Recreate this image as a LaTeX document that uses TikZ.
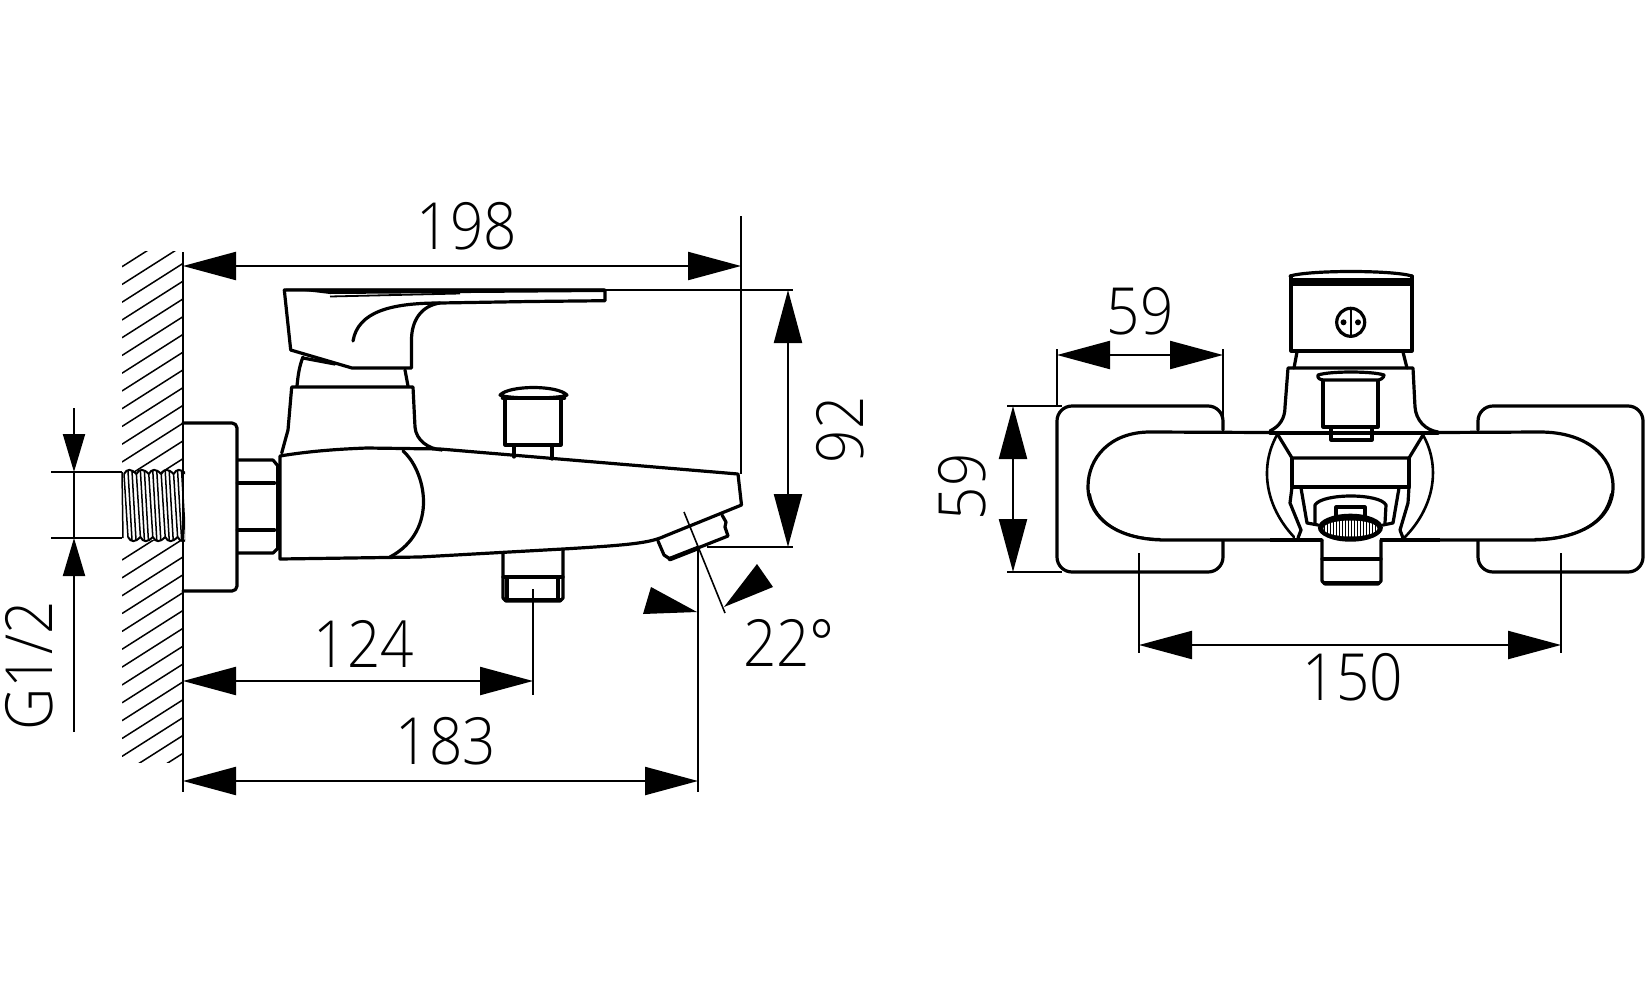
\documentclass[tikz,border=0pt]{standalone}
\usepackage{graphicx}
\usepackage{fontspec}
\setmainfont{Open Sans}[UprightFont=* Light]
\usetikzlibrary{arrows.meta}
\tikzset{
  bighead/.tip={Triangle[length=53pt,width=28pt,sep=0pt]},
  smallhead/.tip={Triangle[length=38pt,width=22pt,sep=0pt]},
  part/.style={line width=3.2pt,line join=round,line cap=round},
  thinpart/.style={line width=2.6pt,line join=round,line cap=round},
  heavy/.style={line width=4.6pt,line join=round,line cap=round},
  dimline/.style={line width=2.2pt,{bighead}-{bighead}},
  extline/.style={line width=1.6pt},
  hatch/.style={line width=1.5pt},
  threadline/.style={line width=1.5pt},
  lbl/.style={inner sep=0pt,font=\fontsize{65}{65}\selectfont}
}
\newcommand{\dimtxt}[1]{\scalebox{0.9}[1]{#1}}
\begin{document}
\begin{tikzpicture}[x=1pt,y=-1pt]
\useasboundingbox (0,0) rectangle (1646,999);
\fill[white] (0,0) rectangle (1646,999);

%% ---------- wall hatching
\begin{scope}
\clip (122,251) rectangle (183,762);
\foreach \k in {0,...,15}{
  \draw[hatch] (122,266.7+17.75*\k) -- ++(70,-44.5);
}
\foreach \k in {0,...,14}{
  \draw[hatch] (122,560+17.85*\k) -- ++(70,-44.5);
}
\end{scope}
\fill[white] (122,473) rectangle (183,540);

%% ---------- thread
\begin{scope}
\clip (120,465) rectangle (185,548);
\foreach \i in {0,...,4}{
  \pgfmathsetmacro{\xa}{124+12.4*\i}
  \draw[threadline,line width=2pt] (\xa,474) .. controls (\xa+3,468.5) and (\xa+7,468.5) .. (\xa+12.4,474);
  \draw[threadline,line width=2pt] (\xa+4,537) .. controls (\xa+7,542.5) and (\xa+11,542.5) .. (\xa+16.4,537);
  \draw[threadline] (\xa,474) -- (\xa+4,537);
  \draw[threadline] (\xa+4,471) -- (\xa+8,540);
  \draw[threadline] (\xa+8,471) -- (\xa+12,540);
}
\draw[threadline] (122,472) -- (123,538);
\end{scope}

%% ---------- wall line and plate
\draw[extline,line width=2pt] (183,252) -- (183,792);
\draw[part] (183,423) -- (232,423) arc[start angle=-90,end angle=0,radius=5] -- (237,586) arc[start angle=0,end angle=90,radius=5] -- (183,591);

%% ---------- nut
\draw[part] (238,460) -- (273,460) -- (278,466) -- (278,548) -- (273,553) -- (238,553);
\draw[heavy] (238,483) -- (274,483);
\draw[heavy] (238,530) -- (274,530);
\draw[heavy] (278,466) -- (278,548);

%% ---------- body
\draw[part] (280,456) .. controls (310,451) and (340,449) .. (367,448) -- (440,449) -- (738,474) -- (741.5,505)
  -- (665,536) .. controls (650,543) and (630,545) .. (563,549) -- (420,557) -- (280,559) -- cycle;
\draw[part] (403,451) .. controls (425,470) and (440,530) .. (390,557);

%% ---------- collar and neck
\draw[part] (281.7,453) -- (288,430) -- (291.7,387) -- (413,387) -- (415,427) .. controls (416,440) and (428,449) .. (442,450);
\draw[part] (303,357) .. controls (299,367) and (298,376) .. (297,386);
\draw[part] (405,370) -- (408,386);

%% ---------- lever
\fill (330,294) -- (470,293) -- (604,292) -- (604,288.5) -- (284,288.5) -- cycle;
\draw[part] (284.3,290) -- (605,290) -- (605,300.7) -- (530,301.5) -- (440,303)
  .. controls (420,306) and (411.5,322) .. (411.5,340) -- (411.5,368) -- (352,368) -- (290.7,350) -- cycle;
\draw[part] (440,303) .. controls (390,303) and (358,312) .. (353,341);
\draw[line width=1.8pt] (330,296.5) -- (460,293.5);
\draw[part] (303,358) -- (335,364);

%% ---------- diverter knob
\draw[part,fill=white] (500,395) .. controls (510,385) and (557,385) .. (567,395) .. controls (560,399) and (507,399) .. (500,395) -- cycle;
\draw[part] (505,399) -- (505,445) -- (561,445) -- (561,399);
\draw[heavy] (503,398) -- (564,398);
\draw[part] (514,445) -- (514,457);
\draw[part] (552,445) -- (552,459);

%% ---------- bottom outlet
\draw[part] (503,554) -- (503,598) -- (506,601) -- (560,601) -- (563,598) -- (563,550);
\draw[part] (507,577) -- (558,577) -- (558,600);
\draw[part] (503,577) -- (563,577);
\draw[part] (507,577) -- (507,600);
\draw[heavy] (506,600) -- (560,600);

%% ---------- aerator
\draw[part] (658,541) -- (664,555) -- (670,559) -- (728,536) -- (725,527) -- (726,522) -- (722,515);
\draw[heavy] (670,559) -- (698,548);

%% ---------- dimension 198
\coordinate (d198a) at (183,266);
\coordinate (d198b) at (741,266);
\draw[dimline] (d198a) -- (d198b);
\draw[extline] (741,216) -- (741,474);
\node[lbl] (t198) at (467,226) {\dimtxt{198}};

%% ---------- dimension 92
\coordinate (d92a) at (788,290);
\coordinate (d92b) at (788,547);
\draw[dimline] (d92a) -- (d92b);
\draw[extline] (605,290) -- (793,290);
\draw[extline] (707,547) -- (793,547);
\node[lbl,rotate=90] (t92) at (840,430) {\dimtxt{92}};

%% ---------- dimension 124
\coordinate (d124a) at (183,681);
\coordinate (d124b) at (533,681);
\draw[dimline] (d124a) -- (d124b);
\draw[extline] (533,589) -- (533,695);
\node[lbl] (t124) at (364,644) {\dimtxt{124}};

%% ---------- dimension 183
\coordinate (d183a) at (183,781);
\coordinate (d183b) at (698,781);
\draw[dimline] (d183a) -- (d183b);
\draw[line width=2.2pt] (698,547) -- (698,792);
\node[lbl] (t183) at (446,741) {\dimtxt{183}};

%% ---------- G1/2
\coordinate (gtopa) at (74,408);
\coordinate (gtopb) at (74,472);
\coordinate (gbota) at (74,732);
\coordinate (gbotb) at (74,538);
\draw[line width=2pt,-{smallhead}] (gtopa) -- (gtopb);
\draw[line width=2pt,-{smallhead}] (gbota) -- (gbotb);
\draw[extline] (74,472) -- (74,538);
\draw[extline] (51,472) -- (122,472);
\draw[extline] (51,538) -- (122,538);
\node[lbl,rotate=90] (tg) at (29,666) {\dimtxt{G1/2}};

%% ---------- angle
\draw[extline] (684,512) -- (725,613);
\fill (697,612) -- (651,587) -- (643,614) -- cycle;
\fill (724,607) -- (757,564) -- (773,587) -- cycle;
\node[lbl] (t22) at (789,643) {\dimtxt{22°}};

%% ---------- right view: plates
\draw[part] (1223,430) -- (1223,421) arc[start angle=0,end angle=-90,radius=15] -- (1072,406) arc[start angle=-90,end angle=-180,radius=15]
  -- (1057,557) arc[start angle=180,end angle=90,radius=15] -- (1208,572) arc[start angle=90,end angle=0,radius=15] -- (1223,541);
\draw[part] (1478,430) -- (1478,421) arc[start angle=180,end angle=270,radius=15] -- (1628,406) arc[start angle=-90,end angle=0,radius=15]
  -- (1643,557) arc[start angle=0,end angle=90,radius=15] -- (1493,572) arc[start angle=90,end angle=180,radius=15] -- (1478,541);

%% ---------- right view: backplate pill
\draw[part] (1438,432.5) -- (1540,432) .. controls (1585,432) and (1613,455) .. (1613,486.7)
  .. controls (1613,520) and (1580,540) .. (1530,540) -- (1382,540);
\draw[part] (1270,432.5) -- (1150,432) .. controls (1110,432) and (1088,458) .. (1088,486.7)
  .. controls (1088,520) and (1120,540) .. (1165,540) -- (1322,540);
\draw[part,line width=2pt] (1090,494) .. controls (1095,525) and (1125,538.5) .. (1160,539);
\draw[part,line width=2pt] (1611,494) .. controls (1605,525) and (1575,538.5) .. (1535,539);
\draw[part] (1270,433) -- (1438,433);
\draw[line width=4.2pt] (1270,540) -- (1322,540);
\draw[line width=4.2pt] (1380,540) -- (1440,540);

%% ---------- right view: lever
\draw[part] (1291,276) -- (1291,351) -- (1412,351) -- (1412,276);
\draw[part] (1290,276) .. controls (1310,270) and (1392,270) .. (1412,276);
\fill (1291,278) rectangle (1411,286);
\draw[part] (1350.7,322.3) circle[radius=14];
\draw[line width=2pt] (1350.7,308) -- (1350.7,336);
\fill (1343.5,322.3) circle[radius=3];
\fill (1358,322.3) circle[radius=3];

%% ---------- right view: collar
\draw[part] (1297,352) -- (1294,368);
\draw[part] (1403,352) -- (1407,368);
\draw[part] (1270,431) .. controls (1280,426) and (1285,418) .. (1285,407) -- (1288,368) -- (1413,368) -- (1415,407) .. controls (1416,420) and (1425,430) .. (1438,432);

%% ---------- right view: knob
\draw[part,fill=white] (1318,375) .. controls (1330,371) and (1372,371) .. (1384,375) .. controls (1384,378) and (1380,380) .. (1378,380) -- (1324,380) .. controls (1320,380) and (1317,378) .. (1318,375) -- cycle;
\draw[part] (1323,381) -- (1323,427) -- (1378,427) -- (1378,381);
\draw[part] (1331,427) -- (1331,440) -- (1372,440) -- (1372,427);

%% ---------- right view: lower body
\draw[part] (1278,435) -- (1292,458) -- (1409,458) -- (1423,435);
\draw[part] (1292,458) -- (1292,487) -- (1409,487) -- (1409,458);
\draw[thinpart] (1277,435) .. controls (1260,465) and (1264,505) .. (1294,537);
\draw[thinpart] (1423,435) .. controls (1440,465) and (1436,505) .. (1405,537);
\draw[part] (1292,487) -- (1290,503) -- (1301,530) -- (1298,538);
\draw[part] (1409,487) -- (1408,503) -- (1400,530) -- (1403,538);
\draw[part] (1301,488) -- (1307,523) -- (1318,525);
\draw[part] (1399,488) -- (1393,523) -- (1383,525);
\draw[part] (1315,523) -- (1315,505) .. controls (1322,493) and (1380,493) .. (1386,505) -- (1385,523);
\draw[part] (1336,517) -- (1336,507) -- (1365,507) -- (1365,517);

%% ---------- right view: outlet
\draw[part] (1322,540) -- (1322,581) -- (1325,584) -- (1378,584) -- (1381,581) -- (1381,540);
\draw[part] (1322,559) -- (1381,559);
\draw[heavy] (1325,583) -- (1378,583);

%% ---------- right view: aerator
\fill (1350.4,527.7) ellipse[x radius=32.5,y radius=14];
\begin{scope}
\clip (1350.4,528.5) ellipse[x radius=27,y radius=8];
\foreach \k in {0,...,18}{
  \draw[white,line width=1.3pt] (1323+3*\k,515) -- (1323+3*\k,540);
}
\end{scope}

%% ---------- dimension 59 horizontal
\coordinate (dh59a) at (1057,355);
\coordinate (dh59b) at (1223,355);
\draw[dimline] (dh59a) -- (dh59b);
\draw[extline] (1057,349) -- (1057,406);
\draw[extline] (1223,349) -- (1223,420);
\node[lbl] (th59) at (1140,311) {\dimtxt{59}};

%% ---------- dimension 59 vertical
\coordinate (dv59a) at (1013,406);
\coordinate (dv59b) at (1013,572);
\draw[dimline] (dv59a) -- (dv59b);
\draw[extline] (1007,406) -- (1062,406);
\draw[extline] (1007,572) -- (1062,572);
\node[lbl,rotate=90] (tv59) at (962,487) {\dimtxt{59}};

%% ---------- dimension 150
\coordinate (d150a) at (1139,645);
\coordinate (d150b) at (1561,645);
\draw[dimline] (d150a) -- (d150b);
\draw[extline] (1139,553) -- (1139,653);
\draw[extline] (1561,553) -- (1561,653);
\node[lbl] (t150) at (1353,677) {\dimtxt{150}};
\end{tikzpicture}
\end{document}
